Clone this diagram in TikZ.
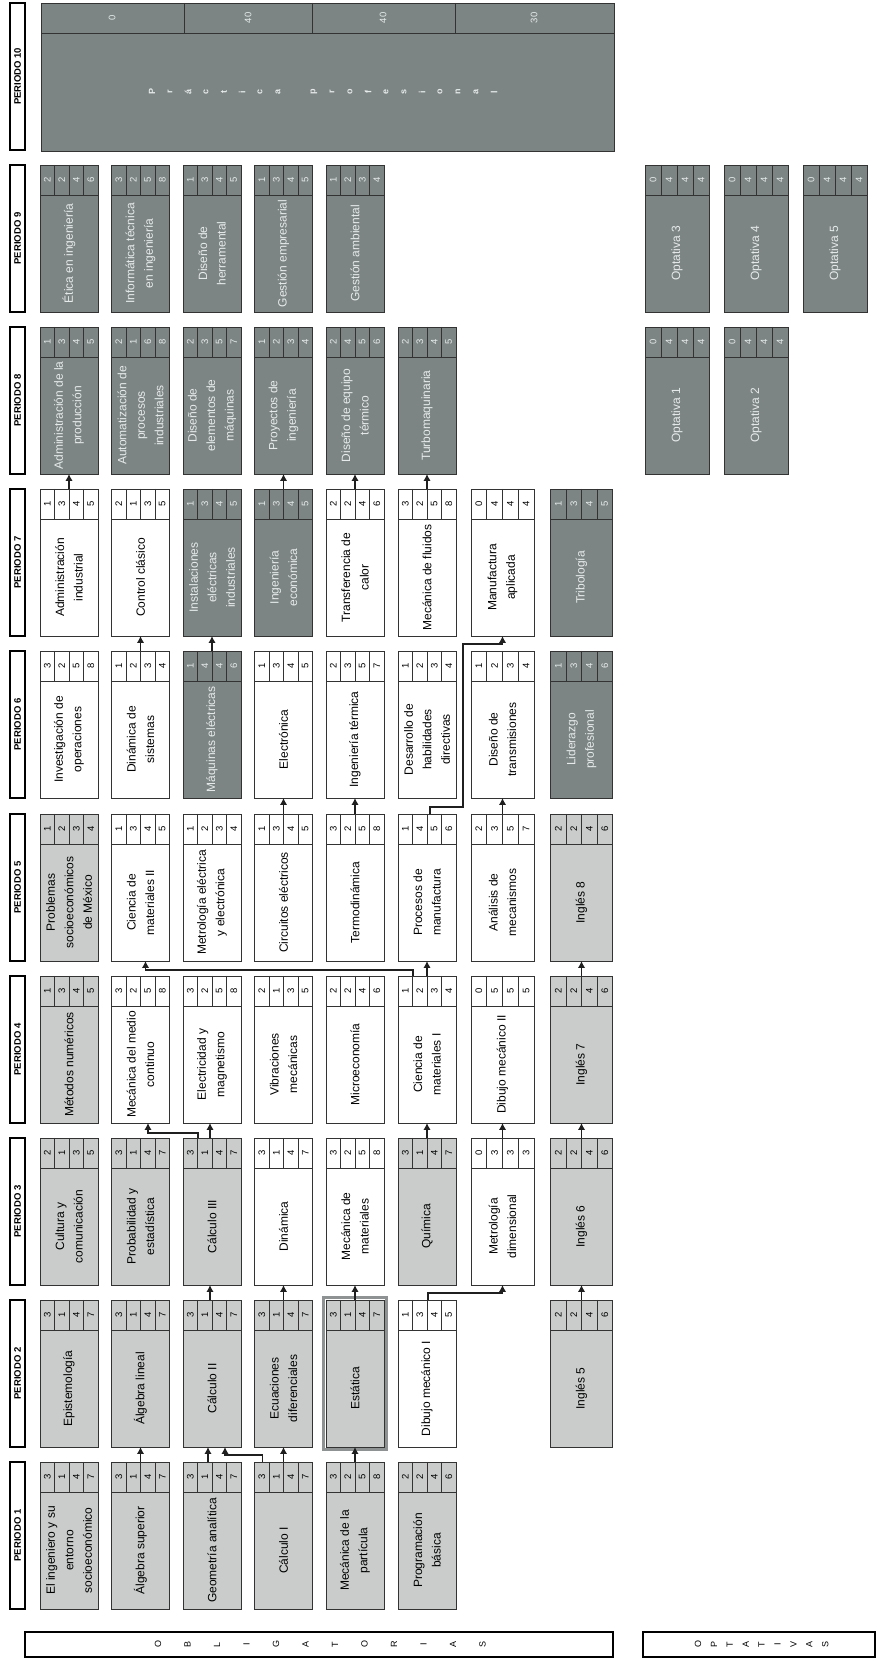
\documentclass[tikz,border=0pt]{standalone}
\usepackage{fontspec}
\setmainfont{Liberation Sans}
\usetikzlibrary{calc,arrows.meta}
\definecolor{lgrey}{HTML}{C9CCCB}
\definecolor{dgrey}{HTML}{7D8584}
\definecolor{lnc}{HTML}{333333}
\definecolor{dtxt}{HTML}{E6EAEA}
\definecolor{hil}{HTML}{8E9292}
\tikzset{
  box/.style={draw=lnc, line width=0.9pt, inner sep=0pt, outer sep=0pt, anchor=north west, minimum height=147pt},
  boxL/.style={box, fill=lgrey},
  boxW/.style={box, fill=white},
  boxD/.style={box, fill=dgrey},
  txtbase/.style={rotate=90, align=center, inner sep=0pt, font=\fontsize{12}{18.5}\selectfont},
  txtL/.style={txtbase, text=black},
  txtW/.style={txtbase, text=black},
  txtD/.style={txtbase, text=dtxt},
  numbase/.style={rotate=90, inner sep=0pt, font=\fontsize{9.5}{9.5}\selectfont},
  numL/.style={numbase, text=black},
  numW/.style={numbase, text=black},
  numD/.style={numbase, text=dtxt},
  cellline/.style={draw=lnc, line width=0.8pt},
  hdrbox/.style={draw=black, line width=1.1pt, fill=white, inner sep=0pt, outer sep=0pt, anchor=north west, minimum width=15pt, minimum height=147pt},
  hdrtxt/.style={rotate=90, inner sep=0pt, font=\fontsize{9.5}{9.5}\selectfont\bfseries},
  lblbox/.style={draw=black, line width=1.1pt, fill=white, inner sep=0pt, outer sep=0pt, anchor=north west, minimum height=25pt},
  lbltxt/.style={rotate=90, inner sep=0pt, font=\fontsize{9}{9}\selectfont},
  arr/.style={draw=black!88, line width=1.8pt, -{Latex[length=7pt,width=7.5pt]}},
}
% #1 name, #2 left x, #3 top y (image coords), #4 width, #5 L/W/D, #6 text, #7 numbers
\newcommand\crs[7]{%
  \node[box#5, minimum width=#4] (#1) at (#2,1661-#3) {};
  \draw[cellline] ($(#1.north west)+(0,-30)$) -- ($(#1.north east)+(0,-30)$);
  \foreach \k in {1,2,3} {\draw[cellline] ($(#1.north west)+({\k*#4/4},0)$) -- ++(0,-30);}
  \foreach \n [count=\i] in {#7} {\node[num#5] at ($(#1.north west)+({(\i-0.5)*#4/4},-15)$) {\n};}
  \node[txt#5] at ($(#1.north west)+(#4/2,-88.5)$) {#6};
}
\newcommand\hdr[3]{%
  \node[hdrbox] (#1) at (10,1661-#2) {};
  \node[hdrtxt] at (#1.center) {#3};
}
\begin{document}
\begin{tikzpicture}[x=1pt,y=1pt]
\useasboundingbox (0,0) rectangle (876,1661);
\fill[white] (0,0) rectangle (876,1661);

% period headers
\hdr{h1}{1462}{PERIODO 1}
\hdr{h2}{1300}{PERIODO 2}
\hdr{h3}{1138}{PERIODO 3}
\hdr{h4}{976}{PERIODO 4}
\hdr{h5}{814}{PERIODO 5}
\hdr{h6}{651}{PERIODO 6}
\hdr{h7}{489}{PERIODO 7}
\hdr{h8}{327}{PERIODO 8}
\hdr{h9}{165}{PERIODO 9}
\hdr{h10}{3}{PERIODO 10}

% PERIODO 1
\crs{p1r1}{40}{1462}{58}{L}{El ingeniero y su\\entorno\\socioeconómico}{3,1,4,7}
\crs{p1r2}{111.5}{1462}{58}{L}{Álgebra superior}{3,1,4,7}
\crs{p1r3}{183}{1462}{58}{L}{Geometría analítica}{3,1,4,7}
\crs{p1r4}{254.5}{1462}{58}{L}{Cálculo I}{3,1,4,7}
\crs{p1r5}{326}{1462}{58}{L}{Mecánica de la\\partícula}{3,2,5,8}
\crs{p1r6}{398}{1462}{58}{L}{Programación\\básica}{2,2,4,6}

% PERIODO 2
\crs{p2r1}{40}{1300}{58}{L}{Epistemología}{3,1,4,7}
\crs{p2r2}{111.5}{1300}{58}{L}{Álgebra lineal}{3,1,4,7}
\crs{p2r3}{183}{1300}{58}{L}{Cálculo II}{3,1,4,7}
\crs{p2r4}{254.5}{1300}{58}{L}{Ecuaciones\\diferenciales}{3,1,4,7}
\draw[hil, line width=3pt] (323.5,1661-1297.5) rectangle (386.5,1661-1449.5);
\crs{p2r5}{326}{1300}{58}{L}{Estática}{3,1,4,7}
\crs{p2r6}{398}{1300}{58}{W}{Dibujo mecánico I}{1,3,4,5}
\crs{p2r8}{550.5}{1300}{62}{L}{Inglés 5}{2,2,4,6}

% PERIODO 3
\crs{p3r1}{40}{1138}{58}{L}{Cultura y\\comunicación}{2,1,3,5}
\crs{p3r2}{111.5}{1138}{58}{L}{Probabilidad y\\estadística}{3,1,4,7}
\crs{p3r3}{183}{1138}{58}{L}{Cálculo III}{3,1,4,7}
\crs{p3r4}{254.5}{1138}{58}{W}{Dinámica}{3,1,4,7}
\crs{p3r5}{326}{1138}{58}{W}{Mecánica de\\materiales}{3,2,5,8}
\crs{p3r6}{398}{1138}{58}{L}{Química}{3,1,4,7}
\crs{p3r7}{471}{1138}{63}{W}{Metrología\\dimensional}{0,3,3,3}
\crs{p3r8}{550.5}{1138}{62}{L}{Inglés 6}{2,2,4,6}

% PERIODO 4
\crs{p4r1}{40}{976}{58}{L}{Métodos numéricos}{1,3,4,5}
\crs{p4r2}{111.5}{976}{58}{W}{Mecánica del medio\\continuo}{3,2,5,8}
\crs{p4r3}{183}{976}{58}{W}{Electricidad y\\magnetismo}{3,2,5,8}
\crs{p4r4}{254.5}{976}{58}{W}{Vibraciones\\mecánicas}{2,1,3,5}
\crs{p4r5}{326}{976}{58}{W}{Microeconomía}{2,2,4,6}
\crs{p4r6}{398}{976}{58}{W}{Ciencia de\\materiales I}{1,2,3,4}
\crs{p4r7}{471}{976}{63}{W}{Dibujo mecánico II}{0,5,5,5}
\crs{p4r8}{550.5}{976}{62}{L}{Inglés 7}{2,2,4,6}

% PERIODO 5
\crs{p5r1}{40}{814}{58}{L}{Problemas\\socioeconómicos\\de México}{1,2,3,4}
\crs{p5r2}{111.5}{814}{58}{W}{Ciencia de\\materiales II}{1,3,4,5}
\crs{p5r3}{183}{814}{58}{W}{Metrología eléctrica\\y electrónica}{1,2,3,4}
\crs{p5r4}{254.5}{814}{58}{W}{Circuitos eléctricos}{1,3,4,5}
\crs{p5r5}{326}{814}{58}{W}{Termodinámica}{3,2,5,8}
\crs{p5r6}{398}{814}{58}{W}{Procesos de\\manufactura}{1,4,5,6}
\crs{p5r7}{471}{814}{63}{W}{Análisis de\\mecanismos}{2,3,5,7}
\crs{p5r8}{550.5}{814}{62}{L}{Inglés 8}{2,2,4,6}

% PERIODO 6
\crs{p6r1}{40}{651}{58}{W}{Investigación de\\operaciones}{3,2,5,8}
\crs{p6r2}{111.5}{651}{58}{W}{Dinámica de\\sistemas}{1,2,3,4}
\crs{p6r3}{183}{651}{58}{D}{Máquinas eléctricas}{1,4,4,6}
\crs{p6r4}{254.5}{651}{58}{W}{Electrónica}{1,3,4,5}
\crs{p6r5}{326}{651}{58}{W}{Ingeniería térmica}{2,3,5,7}
\crs{p6r6}{398}{651}{58}{W}{Desarrollo de\\habilidades\\directivas}{1,2,3,4}
\crs{p6r7}{471}{651}{63}{W}{Diseño de\\transmisiones}{1,2,3,4}
\crs{p6r8}{550.5}{651}{62}{D}{Liderazgo\\profesional}{1,3,4,6}

% PERIODO 7
\crs{p7r1}{40}{489}{58}{W}{Administración\\industrial}{1,3,4,5}
\crs{p7r2}{111.5}{489}{58}{W}{Control clásico}{2,1,3,5}
\crs{p7r3}{183}{489}{58}{D}{Instalaciones\\eléctricas\\industriales}{1,3,4,5}
\crs{p7r4}{254.5}{489}{58}{D}{Ingeniería\\económica}{1,3,4,5}
\crs{p7r5}{326}{489}{58}{W}{Transferencia de\\calor}{2,2,4,6}
\crs{p7r6}{398}{489}{58}{W}{Mecánica de fluidos}{3,2,5,8}
\crs{p7r7}{471}{489}{63}{W}{Manufactura\\aplicada}{0,4,4,4}
\crs{p7r8}{550.5}{489}{62}{D}{Tribología}{1,3,4,5}

% PERIODO 8
\crs{p8r1}{40}{327}{58}{D}{Administración de la\\producción}{1,3,4,5}
\crs{p8r2}{111.5}{327}{58}{D}{Automatización de\\procesos\\industriales}{2,1,6,8}
\crs{p8r3}{183}{327}{58}{D}{Diseño de\\elementos de\\máquinas}{2,3,5,7}
\crs{p8r4}{254.5}{327}{58}{D}{Proyectos de\\ingeniería}{1,2,3,4}
\crs{p8r5}{326}{327}{58}{D}{Diseño de equipo\\térmico}{2,4,5,6}
\crs{p8r6}{398}{327}{58}{D}{Turbomaquinaria}{2,3,4,5}

% PERIODO 9
\crs{p9r1}{40}{165}{58}{D}{Ética en ingeniería}{2,2,4,6}
\crs{p9r2}{111.5}{165}{58}{D}{Informática técnica\\en ingeniería}{3,2,5,8}
\crs{p9r3}{183}{165}{58}{D}{Diseño de\\herramental}{1,3,4,5}
\crs{p9r4}{254.5}{165}{58}{D}{Gestión empresarial}{1,3,4,5}
\crs{p9r5}{326}{165}{58}{D}{Gestión ambiental}{1,2,3,4}

% Optativas
\crs{op1}{645}{327}{64}{D}{Optativa 1}{0,4,4,4}
\crs{op2}{724}{327}{64}{D}{Optativa 2}{0,4,4,4}
\crs{op3}{645}{165}{64}{D}{Optativa 3}{0,4,4,4}
\crs{op4}{724}{165}{64}{D}{Optativa 4}{0,4,4,4}
\crs{op5}{803}{165}{64}{D}{Optativa 5}{0,4,4,4}

% PERIODO 10: practica profesional
\node[boxD, minimum width=573pt, minimum height=148pt] (pp) at (41,1661-3) {};
\draw[cellline] ($(pp.north west)+(0,-30)$) -- ($(pp.north east)+(0,-30)$);
\foreach \xx in {184,312,455} {\draw[cellline] (\xx,1661-3) -- (\xx,1661-33);}
\foreach \xx/\n in {112/0,248/40,383/40,534/30} {\node[numD] at (\xx,1661-18) {\n};}
\foreach \ch [count=\i from 0] in {P,r,á,c,t,i,c,a,{},p,r,o,f,e,s,i,o,n,a,l}
  {\node[rotate=90, inner sep=0pt, text=dtxt, font=\fontsize{9}{9}\selectfont\bfseries] at (152+\i*18,1661-92) {\ch};}

% bottom labels
\node[lblbox, minimum width=588pt] (oblig) at (25,1661-1632) {};
\foreach \ch [count=\i from 0] in {O,B,L,I,G,A,T,O,R,I,A,S}
  {\node[lbltxt] at (158+\i*29.5,1661-1644.5) {\ch};}
\node[lblbox, minimum width=232pt] (optat) at (643,1661-1632) {};
\foreach \ch [count=\i from 0] in {O,P,T,A,T,I,V,A,S}
  {\node[lbltxt] at (698+\i*15.9,1661-1644.5) {\ch};}

% connectors
\draw[arr] (p1r2.north) -- (p2r2.south);
\draw[arr] ($(p1r3.north west)+(25,0)$) -- ($(p2r3.south west)+(25,0)$);
\draw[arr] ($(p1r4.north west)+(8,0)$) |- ($(p2r3.south west)+(42,-8)$) -- ($(p2r3.south west)+(42,0)$);
\draw[arr] (p1r4.north) -- (p2r4.south);
\draw[arr] (p1r5.north) -- (p2r5.south);

\draw[arr] ($(p2r3.north west)+(27,0)$) -- ($(p3r3.south west)+(27,0)$);
\draw[arr] (p2r4.north) -- (p3r4.south);
\draw[arr] (p2r5.north) -- (p3r5.south);
\draw[arr] ($(p2r6.north west)+(30,0)$) |- ($(p3r7.south)+(0,-8)$) -- (p3r7.south);
\draw[arr] (p2r8.north) -- (p3r8.south);

\draw[arr] ($(p3r3.north west)+(15,0)$) |- ($(p4r2.south west)+(36.5,-10)$) -- ($(p4r2.south west)+(36.5,0)$);
\draw[arr] ($(p3r3.north west)+(27,0)$) -- ($(p4r3.south west)+(27,0)$);
\draw[arr] (p3r6.north) -- (p4r6.south);
\draw[arr] (p3r7.north) -- (p4r7.south);
\draw[arr] (p3r8.north) -- (p4r8.south);

\draw[arr] ($(p4r6.north west)+(15,0)$) |- ($(p5r2.south west)+(34,-9)$) -- ($(p5r2.south west)+(34,0)$);
\draw[arr] ($(p4r6.north west)+(29,0)$) -- ($(p5r6.south west)+(29,0)$);
\draw[arr] (p4r8.north) -- (p5r8.south);

\draw[arr] (p5r4.north) -- (p6r4.south);
\draw[arr] (p5r5.north) -- (p6r5.south);
\draw[arr] ($(p5r6.north west)+(32,0)$) |- ($(p6r6.south east)+(7,-9)$) |- ($(p7r7.south)+(0,-8)$) -- (p7r7.south);
\draw[arr] (p5r7.north) -- (p6r7.south);

\draw[arr] (p6r2.north) -- (p7r2.south);
\draw[arr] (p6r3.north) -- (p7r3.south);

\draw[arr] (p7r1.north) -- (p8r1.south);
\draw[arr] (p7r4.north) -- (p8r4.south);
\draw[arr] (p7r5.north) -- (p8r5.south);
\draw[arr] (p7r6.north) -- (p8r6.south);
\end{tikzpicture}
\end{document}
